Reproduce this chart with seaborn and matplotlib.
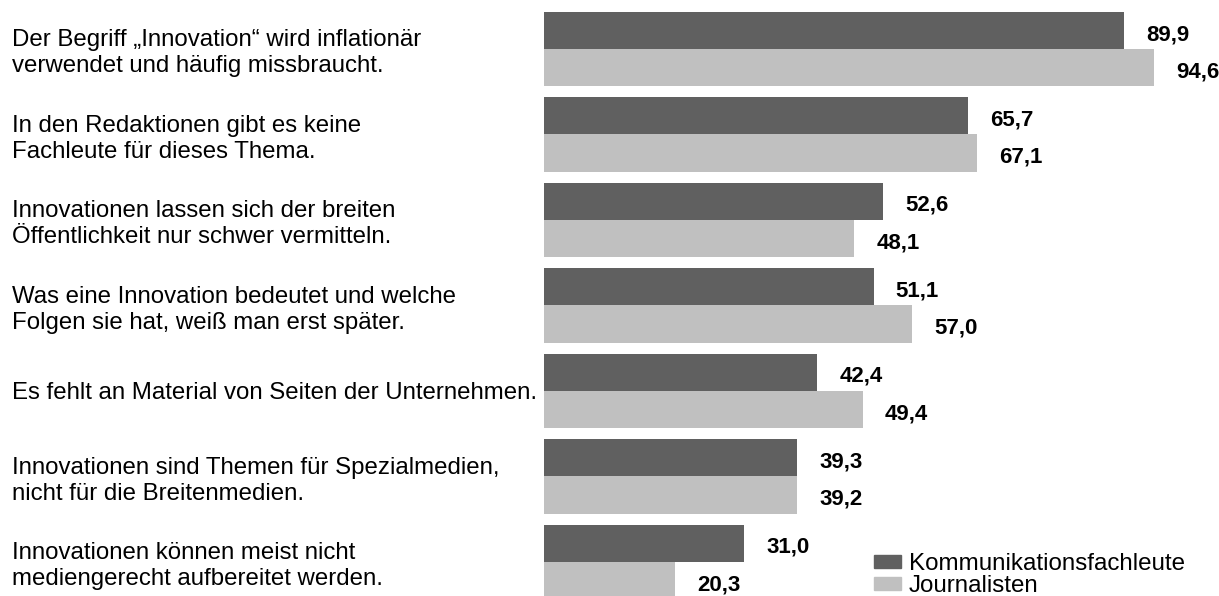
import pandas as pd
import seaborn as sns
import matplotlib.pyplot as plt

statements = [
    "Der Begriff „Innovation“ wird inflationär\nverwendet und häufig missbraucht.",
    "In den Redaktionen gibt es keine\nFachleute für dieses Thema.",
    "Innovationen lassen sich der breiten\nÖffentlichkeit nur schwer vermitteln.",
    "Was eine Innovation bedeutet und welche\nFolgen sie hat, weiß man erst später.",
    "Es fehlt an Material von Seiten der Unternehmen.",
    "Innovationen sind Themen für Spezialmedien,\nnicht für die Breitenmedien.",
    "Innovationen können meist nicht\nmediengerecht aufbereitet werden.",
]
kommunikation = [89.9, 65.7, 52.6, 51.1, 42.4, 39.3, 31.0]
journalisten = [94.6, 67.1, 48.1, 57.0, 49.4, 39.2, 20.3]
groups = ["Kommunikationsfachleute", "Journalisten"]

data = pd.DataFrame({
    "aussage": statements * 2,
    "gruppe": [groups[0]] * len(statements) + [groups[1]] * len(statements),
    "wert": kommunikation + journalisten,
})

sns.set_style("white")
plt.rcParams["font.family"] = ["Liberation Sans", "DejaVu Sans"]
plt.rcParams["text.color"] = "black"
plt.rcParams["ytick.color"] = "black"

W, H = 1219, 596
fig = plt.figure(figsize=(W / 100, H / 100), dpi=100)
left = 544
ax = fig.add_axes([left / W, 0, (W - left) / W, 1])

sns.barplot(data=data, x="wert", y="aussage", hue="gruppe", orient="h",
            palette=["#606060", "#c0c0c0"], width=0.87, ax=ax,
            saturation=1, legend=False, linewidth=0)

ax.set_xlim(0, (W - left) / 6.45)
ax.set_ylim(6.40, -0.573)
sns.despine(ax=ax, left=True, bottom=True)
ax.set_xticks([])
ax.set_xlabel("")
ax.set_ylabel("")

# labels sit at far left of figure, left aligned
ax.tick_params(axis="y", length=0, pad=(left - 12) * 0.72, labelsize=17.3,
               labelcolor="black")
for t in ax.get_yticklabels():
    t.set_ha("left")
    t.set_linespacing(1.22)

for cont, vals in zip(ax.containers, [kommunikation, journalisten]):
    txts = ax.bar_label(cont, labels=[f"{v:.1f}".replace(".", ",") for v in vals],
                        padding=16, fontsize=16, fontweight="bold", color="black")
    for t in txts:
        t.xyann = (t.xyann[0], -3)

handles = [plt.Rectangle((0, 0), 1, 1, color=c) for c in ["#606060", "#c0c0c0"]]
fig.legend(handles, groups, loc="lower left", bbox_to_anchor=(857 / W, -18 / H),
           frameon=False, fontsize=17.4, labelspacing=0.0, handlelength=1.1,
           handleheight=0.45, handletextpad=0.35, borderpad=0.2)

plt.savefig("out.png", dpi=100)
